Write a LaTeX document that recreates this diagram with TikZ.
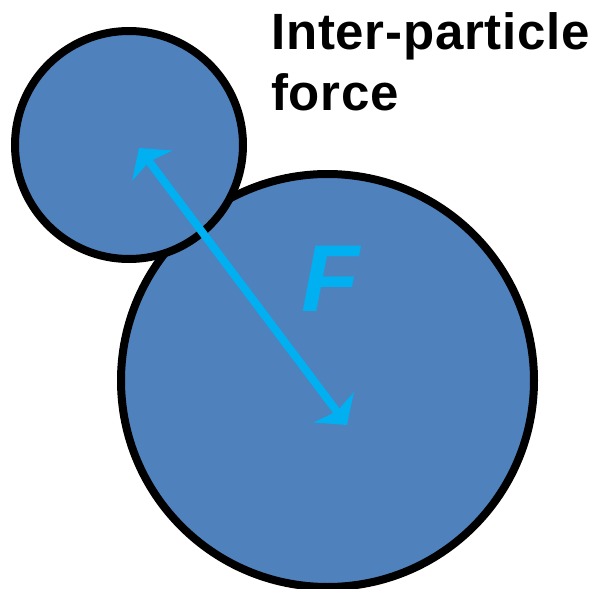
\documentclass[tikz,border=0pt]{standalone}
\usepackage{fontspec}
\setmainfont{Liberation Sans}
\newfontfamily\labelfont[LetterSpace=1.5]{Liberation Sans}
\usetikzlibrary{arrows.meta}
\definecolor{ballblue}{RGB}{79,129,189}
\definecolor{forcecyan}{RGB}{0,176,240}
\tikzset{
  ball/.style={circle, draw=black, fill=ballblue, line width=8pt, inner sep=0pt},
  forcearrow/.style={draw=forcecyan, line width=8pt,
    {Stealth[length=22pt, width=50pt, inset=5pt]}-{Stealth[length=22pt, width=50pt, inset=5pt]}},
}
\begin{document}
\begin{tikzpicture}[x=1pt, y=-1pt]
\useasboundingbox (0,0) rectangle (600,589);
\node[ball, minimum size=413pt] (big) at (327.5,380.5) {};
\node[ball, minimum size=228pt] (small) at (129,145) {};
\coordinate (tipA) at (139,148);
\coordinate (tipB) at (347,425);
\draw[forcearrow] (tipA) -- (tipB);
\node[text=forcecyan, font=\fontsize{95}{95}\selectfont\bfseries\itshape, inner sep=0pt] (F) at (331,279) {F};
\node[anchor=base west, align=left, inner sep=0pt, font=\labelfont\fontsize{51}{61}\selectfont\bfseries] (label) at (271,110) {Inter-particle\\force};
\end{tikzpicture}
\end{document}
